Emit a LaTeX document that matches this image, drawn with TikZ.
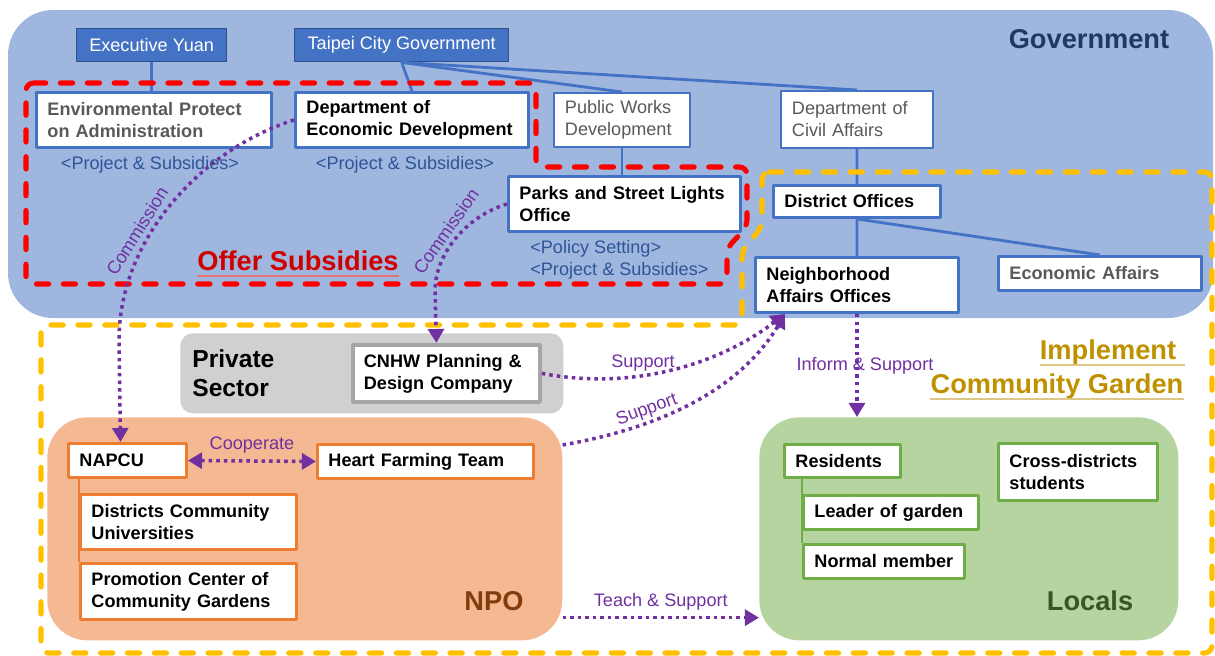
\documentclass[tikz,border=0pt]{standalone}
\usepackage{fontspec}
\setmainfont{Liberation Sans}
\usetikzlibrary{arrows.meta}

\definecolor{govbg}{HTML}{9FB6DF}
\definecolor{blueline}{HTML}{4472C4}
\definecolor{topedge}{HTML}{2F528F}
\definecolor{graytext}{HTML}{595959}
\definecolor{navy}{HTML}{203864}
\definecolor{offerred}{HTML}{D00000}
\definecolor{projblue}{HTML}{2F5597}
\definecolor{arrpurple}{HTML}{7030A0}
\definecolor{privfill}{HTML}{D0D0D0}
\definecolor{cnhwgray}{HTML}{A6A6A6}
\definecolor{npofill}{HTML}{F4B993}
\definecolor{orangeline}{HTML}{ED7D31}
\definecolor{npobrown}{HTML}{843C0C}
\definecolor{locfill}{HTML}{B5D49F}
\definecolor{greenline}{HTML}{70AD47}
\definecolor{locgreen}{HTML}{375623}
\definecolor{goldtext}{HTML}{BF9000}
\definecolor{goldline}{HTML}{DCC788}
\definecolor{dashred}{HTML}{FF0000}
\definecolor{dashgold}{HTML}{FFC000}

\begin{document}
\begin{tikzpicture}[x=0.02cm,y=-0.02cm,line join=round,font=\fontsize{10.3}{12.5}\selectfont,
  box/.style={draw=blueline,fill=white,line width=1.7pt,anchor=north west,align=left,inner xsep=0.22cm,inner ysep=0pt,font=\fontsize{10.3}{12.5}\selectfont\bfseries},
  plain/.style={box,line width=1.1pt,text=graytext,font=\fontsize{10.3}{12.5}\selectfont},
  head/.style={draw=topedge,fill=blueline,text=white,line width=0.8pt,anchor=north west,minimum height=0.66cm},
  obox/.style={box,draw=orangeline},
  gbox/.style={box,draw=greenline},
  link/.style={blueline,line width=1.6pt},
  arr/.style={arrpurple,line width=2pt,dash pattern=on 2pt off 2.3pt,-{Triangle[length=8pt,width=9pt]}},
  lbl/.style={text=arrpurple},
  zone/.style={line width=2.9pt,line cap=round,dash pattern=on 7pt off 8.3pt,rounded corners=0.15cm},
  tag/.style={font=\fontsize{15.5}{19}\selectfont\bfseries,inner sep=0pt}]
  \useasboundingbox (0,0) rectangle (1215,656);

  \fill[govbg,rounded corners=0.9cm] (8,10) rectangle (1213,318);
  \node[fill=npofill,rounded corners=0.8cm,anchor=north west,minimum width=10.3cm,minimum height=4.46cm] (npo) at (47,417) {};
  \node[fill=locfill,rounded corners=0.8cm,anchor=north west,minimum width=8.38cm,minimum height=4.46cm] (locals) at (759,417) {};
  \node[fill=privfill,rounded corners=0.25cm,anchor=north west,minimum width=7.66cm,minimum height=1.6cm,text width=7.18cm,inner xsep=0.24cm,align=left,font=\fontsize{14}{16.5}\selectfont\bfseries] (private) at (180,333) {Private\\Sector};

  \node[head,minimum width=3cm] (exec) at (76,28) {Executive Yuan};
  \node[head,minimum width=4.28cm] (tcg) at (294,28) {Taipei City Government};
  \node[box,text=graytext,text width=4.26cm,minimum height=1.1cm] (epa) at (35,91) {Environmental Protect\\on Administration};
  \node[box,text width=4.22cm,minimum height=1.1cm] (ded) at (294,91) {Department of\\Economic Development};
  \node[plain,text width=2.28cm,minimum height=1.08cm] (pwd) at (553,92) {Public Works\\Development};
  \node[plain,text width=2.6cm,minimum height=1.14cm] (dca) at (780,90) {Department of\\Civil Affairs};
  \node[box,text width=4.2cm,minimum height=1.1cm] (parks) at (507,175) {Parks and Street Lights\\Office};
  \node[box,text width=2.9cm,minimum height=0.64cm] (district) at (772,184) {District Offices};
  \node[box,text width=3.62cm,minimum height=1.1cm] (neigh) at (754,256) {Neighborhood\\Affairs Offices};
  \node[box,text=graytext,text width=3.62cm,minimum height=0.68cm] (econ) at (997,255) {Economic Affairs};
  \node[box,draw=cnhwgray,line width=2.2pt,text width=3.3cm,minimum height=1.14cm] (cnhw) at (351,343) {CNHW Planning \&\\Design Company};
  \node[obox,text width=1.92cm,minimum height=0.68cm] (napcu) at (67,442) {NAPCU};
  \node[obox,text width=3.88cm,minimum height=0.68cm] (heart) at (316,443) {Heart Farming Team};
  \node[obox,text width=3.88cm,minimum height=1.1cm] (dcu) at (79,493) {Districts Community\\Universities};
  \node[obox,text width=3.88cm,minimum height=1.12cm] (pcg) at (79,562) {Promotion Center of\\Community Gardens};
  \node[gbox,text width=1.88cm,minimum height=0.66cm] (residents) at (783,443) {Residents};
  \node[gbox,text width=3.06cm,minimum height=0.68cm] (leader) at (802,494) {Leader of garden};
  \node[gbox,text width=2.78cm,minimum height=0.68cm] (normal) at (802,543) {Normal member};
  \node[gbox,text width=2.74cm,minimum height=1.14cm] (cross) at (997,442) {Cross-districts\\students};

  \draw[link] (exec.south) -- (exec.south |- epa.north);
  \draw[link] (tcg.south) -- (ded.north);
  \draw[link] (tcg.south) -- (pwd.north);
  \draw[link] (tcg.south) -- (dca.north);
  \draw[link] (pwd.south) -- (pwd.south |- parks.north);
  \draw[link] (dca.south) -- (district.north);
  \draw[link] (district.south) -- (neigh.north);
  \draw[link] (district.south) -- (econ.north);
  \draw[link,orangeline] (napcu.south -| dcu.west) -- (pcg.north west);
  \draw[link,greenline] (residents.south -| leader.west) -- (normal.north west);

  \draw[zone,dashred] (26,83) -- (536,83) -- (536,167) -- (747,167) -- (747,227) -- (727,248) -- (727,284) -- (26,284) -- cycle;
  \draw[zone,dashgold] (762,172) -- (1212,172) -- (1212,653) -- (41,653) -- (41,325) -- (742,325) -- (742,250) -- (762,227) -- cycle;

  \node[tag,text=navy] (govlbl) at (1089,39) {Government};
  \node[tag,text=offerred] (offer) at (298,261) {Offer Subsidies};
  \draw[offerred!55,line width=0.6pt] ([yshift=-3pt]offer.base west) -- ([yshift=-3pt]offer.base east);
  \node[text=projblue] (projA) at (150,165) {<Project \& Subsidies>};
  \node[text=projblue] (projB) at (405,165) {<Project \& Subsidies>};
  \node[text=projblue,align=left,anchor=west,inner xsep=0pt] (policy) at (530,260) {<Policy Setting>\\<Project \& Subsidies>};
  \node[tag,text=goldtext] (implA) at (1108,352) {Implement};
  \node[tag,text=goldtext] (implB) at (1057,386) {Community Garden};
  \draw[goldline,line width=0.8pt] ([yshift=-3.5pt]implA.base west) -- ([xshift=5pt,yshift=-3.5pt]implA.base east);
  \draw[goldline,line width=0.8pt] ([yshift=-3.5pt]implB.base west) -- ([yshift=-3.5pt]implB.base east);
  \node[tag,text=npobrown] (npolbl) at (494,601) {NPO};
  \node[tag,text=locgreen] (loclbl) at (1090,601) {Locals};

  \draw[arr] (ded.west) .. controls (200,150) and (119,240) .. (119,340) -- ([xshift=-0.14cm]napcu.north);
  \node[lbl,rotate=58] at (137,231) {Commission};
  \draw[arr] (parks.west) .. controls (470,215) and (436,250) .. (435,290) -- ([xshift=-0.2cm]cnhw.north);
  \node[lbl,rotate=55] at (446,231) {Commission};
  \draw[arr] (cnhw.east) .. controls (640,392) and (725,360) .. ([xshift=0.62cm]neigh.south west);
  \node[lbl] at (643,363) {Support};
  \draw[arr] ([yshift=-0.56cm]npo.north east) .. controls (660,428) and (740,390) .. ([xshift=0.62cm]neigh.south west);
  \node[lbl,rotate=20] at (647,410) {Support};
  \draw[arr] (neigh.south) -- (neigh.south |- locals.north) node[lbl,midway,xshift=0.16cm] {Inform \& Support};
  \draw[arr,{Triangle[length=8pt,width=9pt]}-{Triangle[length=8pt,width=9pt]}] (napcu.east) -- (heart.west) node[lbl,midway,above] {Cooperate};
  \draw[arr] ([yshift=0.46cm]npo.south east) -- ([yshift=0.46cm]locals.south west) node[lbl,midway,above] {Teach \& Support};
\end{tikzpicture}
\end{document}
